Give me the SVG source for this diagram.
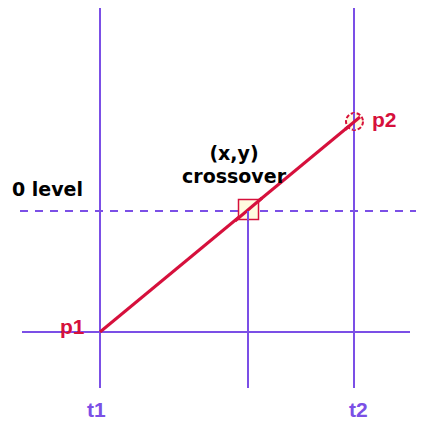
<svg xmlns="http://www.w3.org/2000/svg" width="425" height="423" viewBox="0 0 425 423">
<style>
.axis{stroke:#7b4fe6;stroke-width:2;fill:none}
.dash{stroke:#7b4fe6;stroke-width:2;stroke-dasharray:8,7;fill:none}
.red{stroke:#d6103c;fill:none}
.lbl{font-family:"Liberation Sans",Arial,sans-serif;font-weight:bold;font-size:21px}
.blk{font-family:"DejaVu Sans",Verdana,sans-serif;font-weight:bold;font-size:19px;fill:#000}
</style>
<rect width="425" height="423" fill="#ffffff"/>
<g id="connectors">
<line class="axis" x1="100" y1="8" x2="100" y2="388"/>
<line class="axis" x1="354" y1="8" x2="354" y2="388"/>
<line class="axis" x1="248" y1="211" x2="248" y2="388"/>
<line class="axis" x1="22" y1="332" x2="410" y2="332"/>
<line class="dash" x1="20" y1="211" x2="416" y2="211"/>
<line class="red" stroke-width="3" x1="100" y1="332" x2="354" y2="122"/>
</g>
<g id="crossover">
<rect x="238.5" y="199.5" width="20" height="20" fill="#fffbe0" stroke="#d6103c" stroke-width="1.5"/>
<line class="red" stroke-width="3" x1="235" y1="221" x2="262" y2="198"/>
<line class="axis" x1="248" y1="211" x2="248" y2="220"/>
<text class="blk" x="234" y="160" text-anchor="middle">(x,y)</text>
<text class="blk" x="234" y="183" text-anchor="middle">crossover</text>
</g>
<g id="p2">
<circle cx="354.5" cy="121.5" r="8.5" fill="#fffbe0" stroke="#d6103c" stroke-width="2" stroke-dasharray="4,2"/>
<line class="axis" x1="354" y1="113" x2="354" y2="130"/>
<line class="red" stroke-width="3" x1="345" y1="129.5" x2="360" y2="117"/>
<text class="lbl" x="372" y="127" fill="#d6103c">p2</text>
</g>
<g id="p1">
<text class="lbl" x="60" y="334" fill="#d6103c">p1</text>
</g>
<g id="zero">
<text class="blk" x="12" y="196">0 level</text>
</g>
<g id="t1"><text class="lbl" x="87" y="417" fill="#7b4fe6">t1</text></g>
<g id="t2"><text class="lbl" x="349" y="417" fill="#7b4fe6">t2</text></g>
</svg>
